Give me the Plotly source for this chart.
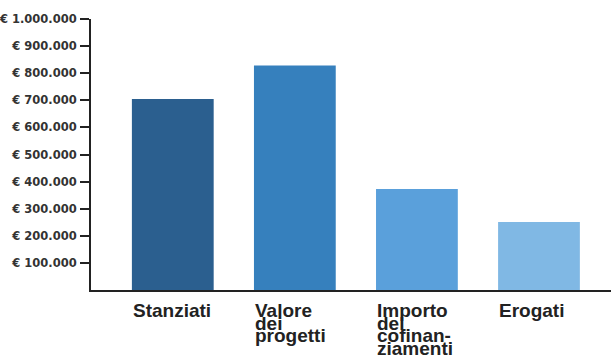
import plotly.graph_objects as go

categories = ["Stanziati", "Valore dei progetti", "Importo del cofinanziamenti", "Erogati"]
label_lines = [["Stanziati"], ["Valore", "dei", "progetti"], ["Importo", "del", "cofinan-", "ziamenti"], ["Erogati"]]
values = [705000, 828000, 373000, 251000]
colors = ["#2b5f8f", "#3680bd", "#5aa0db", "#80b8e4"]
tick_vals = [100000, 200000, 300000, 400000, 500000, 600000, 700000, 800000, 900000, 1000000]
tick_text = ["€ 100.000", "€ 200.000", "€ 300.000", "€ 400.000", "€ 500.000",
             "€ 600.000", "€ 700.000", "€ 800.000", "€ 900.000", "€ 1.000.000"]

bargap = 0.33
xs = list(range(len(categories)))

fig = go.Figure(go.Bar(x=xs, y=values, marker=dict(color=colors, line=dict(width=0)),
                       width=1 - bargap, hoverinfo="skip"))

for i, lines in enumerate(label_lines):
    for j, line in enumerate(lines):
        fig.add_annotation(x=i - (1 - bargap) / 2, y=0, xref="x", yref="y",
                           text="<b>" + line + "</b>", showarrow=False,
                           xanchor="left", yanchor="top", yshift=-9 - j * 12.5,
                           font=dict(family="Liberation Sans, Arial", size=19, color="#222"),
                           borderpad=0, xshift=0)

fig.update_layout(
    width=611, height=356,
    margin=dict(l=91, r=0, t=19, b=66, autoexpand=False),
    paper_bgcolor="white", plot_bgcolor="white",
    showlegend=False,
    bargap=bargap,
    xaxis=dict(range=[-0.67, 3.59], showticklabels=False, ticks="", showgrid=False,
               zeroline=False, showline=True, linecolor="#222", linewidth=2, automargin=False),
    yaxis=dict(range=[0, 1000000], tickvals=tick_vals, ticktext=tick_text,
               ticks="outside", ticklen=9, tickwidth=2, tickcolor="#222",
               showgrid=False, zeroline=False, showline=True, linecolor="#222", linewidth=2,
               tickfont=dict(family="DejaVu Sans", size=11.5,
                             color="#333", weight="bold"),
               ticklabelstandoff=1, automargin=False),
)

fig.write_html("out.html", config={"displayModeBar": False},
               post_script="document.body.style.margin='0';document.body.style.padding='0';")
